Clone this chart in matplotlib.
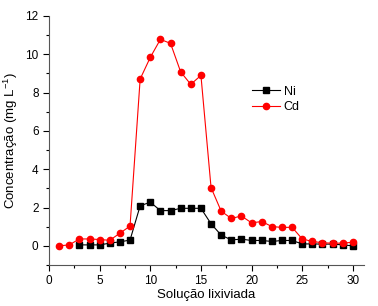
import numpy as np
import matplotlib
matplotlib.use('Agg')
import matplotlib.pyplot as plt
from matplotlib.ticker import MultipleLocator

plt.rcParams['font.family'] = ['Liberation Sans', 'DejaVu Sans']
plt.rcParams['mathtext.fontset'] = 'custom'
plt.rcParams['mathtext.rm'] = 'Liberation Sans'
plt.rcParams['mathtext.it'] = 'Liberation Sans'

# Data
x_ni = list(range(3, 31))
ni = [0.05, 0.05, 0.05, 0.14, 0.21, 0.30, 2.09, 2.28, 1.84, 1.84, 1.96, 1.96, 1.96,
      1.15, 0.56, 0.31, 0.35, 0.28, 0.28, 0.23, 0.28, 0.28, 0.10, 0.10, 0.09, 0.09,
      0.05, 0.00]
x_cd = list(range(1, 31))
cd = [0.00, 0.05, 0.36, 0.36, 0.33, 0.29, 0.66, 1.03, 8.71, 9.84, 10.78, 10.57,
      9.08, 8.43, 8.90, 3.04, 1.81, 1.43, 1.56, 1.20, 1.27, 1.01, 0.96, 0.97, 0.36,
      0.23, 0.16, 0.14, 0.14, 0.19]

fig = plt.figure(figsize=(3.78, 3.06), dpi=100)
ax = fig.add_axes([49/378, 41/306, 315/378, 249/306])

ax.plot(x_ni, ni, '-s', color='black', lw=0.8, ms=4.5, label='Ni')
ax.plot(x_cd, cd, '-o', color='red', lw=0.8, ms=4.5, label='Cd')

ax.set_xlim(0, 31.1)
ax.set_ylim(-1, 12)
ax.xaxis.set_major_locator(MultipleLocator(5))
ax.xaxis.set_minor_locator(MultipleLocator(2.5))
ax.yaxis.set_major_locator(MultipleLocator(2))
ax.yaxis.set_minor_locator(MultipleLocator(1))
ax.tick_params(which='major', direction='out', length=4, width=0.8, labelsize=8.5, colors='black')
ax.tick_params(which='minor', direction='out', length=2, width=0.8)
ax.spines['top'].set_visible(False)
ax.spines['right'].set_visible(False)
for s in ['left', 'bottom']:
    ax.spines[s].set_color('#555555')

ax.set_xlabel('Solução lixiviada', fontsize=9.5, labelpad=1)
ax.set_ylabel('Concentração (mg L$^{-1}$)', fontsize=9.5, labelpad=4)

ax.legend(loc='upper left', bbox_to_anchor=(0.61, 0.765), frameon=False, fontsize=9,
          handlelength=2.2, handletextpad=0.3, labelspacing=0.25)

fig.savefig('out.png', dpi=100)
